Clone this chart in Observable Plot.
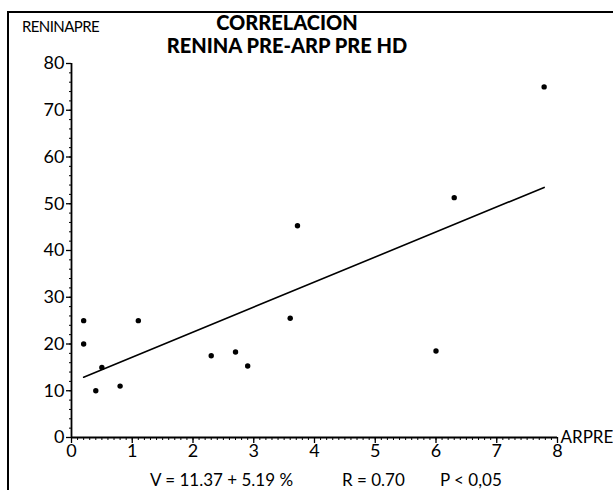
<!DOCTYPE html>
<html>
<head>
<meta charset="utf-8">
<script src="https://cdn.jsdelivr.net/npm/d3@7"></script>
<script src="https://cdn.jsdelivr.net/npm/@observablehq/plot@0.6"></script>
<style>
  html, body { margin: 0; padding: 0; background: #fff; }
  #wrap { position: relative; width: 613px; height: 490px; overflow: hidden; font-family: Lato, "Open Sans", sans-serif; color: #000; }
  #frame { position: absolute; left: 7px; top: 11px; width: 700px; height: 600px; border-left: 2px solid #000; border-top: 2px solid #000; }
  .t { position: absolute; white-space: nowrap; }
  #title { left: 150px; width: 274px; top: 11px; text-align: center; font-weight: 900; font-size: 20px; line-height: 23px; }
  #ylab { left: 22px; top: 17px; font-size: 15px; letter-spacing: -0.6px; }
  .foot { top: 469px; font-size: 17px; }
  svg { position: absolute; left: 0; top: 0; }
</style>
</head>
<body>
<div id="wrap">
  <div id="frame"></div>
  <div class="t" id="title">CORRELACION<br>RENINA PRE-ARP PRE HD</div>
  <div class="t" id="ylab">RENINAPRE</div>
  <div class="t foot" style="left:150px">V = 11.37 + 5.19 %</div>
  <div class="t foot" style="left:342px">R = 0.70</div>
  <div class="t foot" style="left:440px">P &lt; 0,05</div>
</div>
<script>
// ARPRE values (x) and RENINAPRE values (y)
const arpre =     [0.2, 0.2, 0.4, 0.5, 0.8, 1.1, 2.3, 2.7, 2.9, 3.6, 3.72, 6.0, 6.3, 7.78];
const reninapre = [25,  20,  10,  15,  11,  25,  17.5, 18.3, 15.3, 25.5, 45.3, 18.5, 51.3, 75];
// regression line end points as drawn
const fitX = [0.2, 7.78];
const fitY = [12.9, 53.5];
const xTicks = [0, 1, 2, 3, 4, 5, 6, 7, 8];
const yTicks = [0, 10, 20, 30, 40, 50, 60, 70, 80];
const xMinor = d3.range(0, 80.5, 1).map(d => d / 10);
const yMinor = d3.range(0, 81, 2);

const pts = arpre.map((x, i) => ({x, y: reninapre[i]}));
const fit = fitX.map((x, i) => ({x, y: fitY[i]}));

const chart = Plot.plot({
  width: 613,
  height: 490,
  marginLeft: 71,
  marginRight: 56,
  marginTop: 63,
  marginBottom: 53,
  style: {fontFamily: "Lato, 'Open Sans', sans-serif", fontSize: "18px", color: "#000", background: "transparent", overflow: "visible"},
  x: {domain: [0, 8]},
  y: {domain: [0, 80]},
  marks: [
    Plot.axisX({ticks: xMinor, tickSize: 3, text: null, label: null, strokeWidth: 1}),
    Plot.axisX({ticks: xTicks, tickSize: 6, tickPadding: 1, fontSize: 18, label: null, strokeWidth: 1.3}),
    Plot.axisY({ticks: yMinor, tickSize: 2, text: null, label: null, strokeWidth: 1}),
    Plot.axisY({ticks: yTicks, tickSize: 5, tickPadding: 2, fontSize: 18, label: null, strokeWidth: 1.3}),
    Plot.ruleX([0], {strokeWidth: 1.8}),
    Plot.ruleY([0], {strokeWidth: 1.8}),
    Plot.line(fit, {x: "x", y: "y", stroke: "#000", strokeWidth: 1.6}),
    Plot.dot(pts, {x: "x", y: "y", r: 2.7, fill: "#000", stroke: null}),
    Plot.text(["ARPRE"], {x: 8, y: 0, text: d => d, textAnchor: "start", dx: 3, fontSize: 17})
  ]
});
document.getElementById("wrap").appendChild(chart);
</script>
</body>
</html>
